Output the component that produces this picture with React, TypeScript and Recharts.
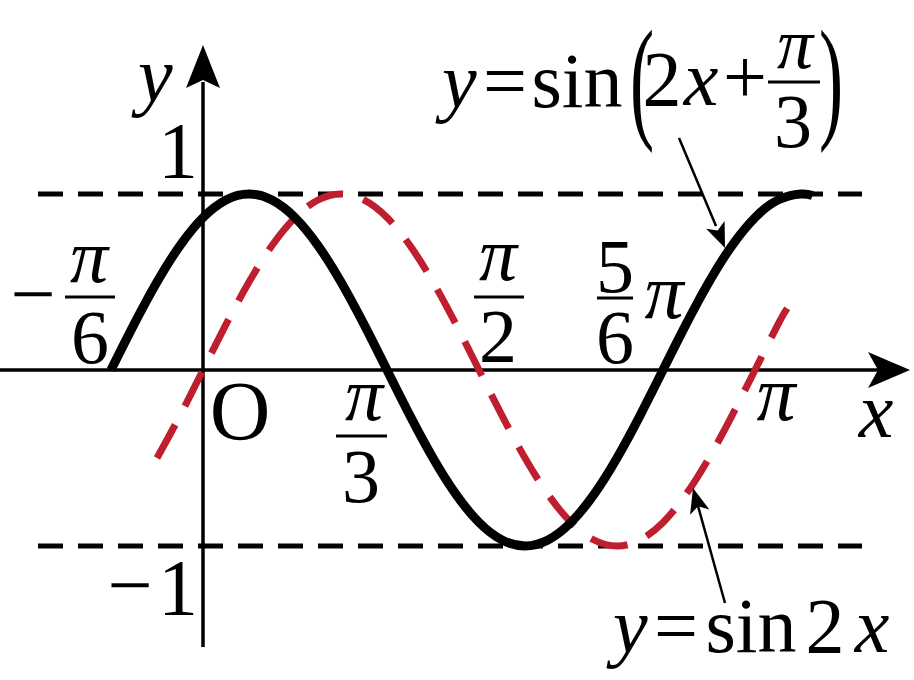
import { LineChart, Line, XAxis, YAxis, ReferenceLine, ReferenceDot } from 'recharts';

// x is counted in steps of π/24, y is the function value
const BLACK_K = [-4, -3, -2, -1, 0, 1, 2, 3, 4, 5, 6, 7, 8, 9, 10, 11, 12, 13, 14, 15, 16, 17, 18, 19, 20, 21, 22, 23, 24, 25, 26, 26.5];
const BLACK_Y = [0, 0.259, 0.5, 0.707, 0.866, 0.966, 1, 0.966, 0.866, 0.707, 0.5, 0.259, 0, -0.259, -0.5, -0.707, -0.866, -0.966, -1, -0.966, -0.866, -0.707, -0.5, -0.259, 0, 0.259, 0.5, 0.707, 0.866, 0.966, 1, 0.991];

const RED_K = [-2, -1, 0, 1, 2, 3, 4, 5, 6, 7, 8, 9, 10, 11, 12, 13, 14, 15, 16, 17, 18, 19, 20, 21, 22, 23, 24, 25, 25.4];
const RED_Y = [-0.5, -0.259, 0, 0.259, 0.5, 0.707, 0.866, 0.966, 1, 0.966, 0.866, 0.707, 0.5, 0.259, 0, -0.259, -0.5, -0.707, -0.866, -0.966, -1, -0.966, -0.866, -0.707, -0.5, -0.259, 0, 0.259, 0.35];

const W = 914;
const H = 680;
const X0 = 203; // pixel of x = 0
const KPX = 23; // pixels per π/24
const Y0 = 370; // pixel of y = 0
const UPX = 176; // pixels per unit of y

const kOf = (p: number) => (p - X0) / KPX;
const vOf = (p: number) => (Y0 - p) / UPX;

const X_DOMAIN = [kOf(0), kOf(W)];
const Y_DOMAIN = [vOf(H), vOf(0)];

const RED = '#BE1E2D';
const SERIF = 'Liberation Serif, DejaVu Serif, serif';

const blackData = BLACK_K.map((k, i) => ({ k, y: BLACK_Y[i] }));
const redData = RED_K.map((k, i) => ({ k, y: RED_Y[i] }));

// stealth style arrow head, tip at (tx, ty), pointing away from (fx, fy)
function stealth(tx: number, ty: number, fx: number, fy: number, len: number, half: number, notch: number) {
  const dx = tx - fx;
  const dy = ty - fy;
  const d = Math.hypot(dx, dy);
  const ux = dx / d;
  const uy = dy / d;
  const bx = tx - ux * len;
  const by = ty - uy * len;
  const nx = tx - ux * notch;
  const ny = ty - uy * notch;
  return `M${tx},${ty} L${bx - uy * half},${by + ux * half} L${nx},${ny} L${bx + uy * half},${by - ux * half} Z`;
}

const UpArrow = (props: any) => (
  <path d={stealth(props.cx, props.cy, props.cx, props.cy + 10, 43, 17, 35)} fill="#000" />
);
const RightArrow = (props: any) => (
  <path d={stealth(props.cx, props.cy, props.cx - 10, props.cy, 42, 18, 32)} fill="#000" />
);

function T({ x, y, size, italic, anchor, transform, children }: any) {
  return (
    <text
      x={x}
      y={y}
      transform={transform}
      textAnchor={anchor || 'middle'}
      fontFamily={SERIF}
      fontSize={size}
      fontStyle={italic ? 'italic' : 'normal'}
      fill="#000"
    >
      {children}
    </text>
  );
}

function Overlay() {
  const big = 80;
  const lab = 78;
  const frac = 76;
  return (
    <svg width={W} height={H} style={{ position: 'absolute', left: 0, top: 0, pointerEvents: 'none' }}>
      {/* axis names */}
      <T x={138} y={101} size={lab} italic anchor="start">y</T>
      <T x={876} y={437} size={lab} italic>x</T>

      {/* y ticks */}
      <T x={178} y={178} size={big}>1</T>
      <T x={130} y={612} size={big}>−</T>
      <T x={178} y={615} size={big}>1</T>
      <T x={240} y={440} size={84}>O</T>

      {/* -π/6 */}
      <T x={33} y={321} size={big}>−</T>
      <line x1={65} x2={115} y1={297} y2={297} stroke="#000" strokeWidth={3} />
      <T x={89} y={282} size={frac} italic>π</T>
      <T x={90} y={363} size={frac}>6</T>

      {/* π/3 */}
      <T x={364} y={420} size={frac} italic>π</T>
      <line x1={336} x2={387} y1={436} y2={436} stroke="#000" strokeWidth={3} />
      <T x={361} y={502} size={frac}>3</T>

      {/* π/2 */}
      <T x={498} y={280} size={frac} italic>π</T>
      <line x1={474} x2={524} y1={297} y2={297} stroke="#000" strokeWidth={3} />
      <T x={498} y={362} size={frac}>2</T>

      {/* 5π/6 */}
      <T x={615} y={292} size={frac}>5</T>
      <line x1={597} x2={633} y1={298} y2={298} stroke="#000" strokeWidth={3} />
      <T x={615} y={363} size={frac}>6</T>
      <T x={664} y={318} size={lab} italic>π</T>

      {/* π */}
      <T x={776} y={420} size={lab} italic>π</T>

      {/* y = sin(2x + π/3) */}
      <T x={442} y={107} size={lab} italic anchor="start">y</T>
      <T x={505} y={107} size={lab}>=</T>
      <T x={577} y={107} size={lab}>sin</T>
      <T transform="translate(642,124) scale(0.58,1.08)" size={125}>(</T>
      <T x={662} y={105} size={lab}>2</T>
      <T x={701} y={105} size={lab} italic>x</T>
      <T x={745} y={103} size={lab}>+</T>
      <line x1={768} x2={820} y1={82} y2={82} stroke="#000" strokeWidth={3} />
      <T x={795} y={68} size={72} italic>π</T>
      <T x={793} y={147} size={frac}>3</T>
      <T transform="translate(831,124) scale(0.58,1.08)" size={125}>)</T>
      <line x1={679} y1={138} x2={716} y2={226} stroke="#000" strokeWidth={2.5} />
      <path d={stealth(725, 248, 679, 138, 25, 10, 19)} fill="#000" />

      {/* y = sin 2x */}
      <T x={613} y={652} size={lab} italic anchor="start">y</T>
      <T x={676} y={652} size={lab}>=</T>
      <T x={751} y={652} size={lab}>sin</T>
      <T x={825} y={652} size={lab}>2</T>
      <T x={872} y={652} size={lab} italic>x</T>
      <line x1={725} y1={603} x2={698} y2={506} stroke="#000" strokeWidth={2.5} />
      <path d={stealth(693, 488, 725, 603, 25, 10, 19)} fill="#000" />
    </svg>
  );
}

export default function App() {
  return (
    <div style={{ position: 'absolute', left: 0, top: 0, width: W, height: H, background: '#fff' }}>
      <LineChart width={W} height={H} margin={{ top: 0, right: 0, bottom: 0, left: 0 }}>
        <XAxis type="number" dataKey="k" domain={X_DOMAIN} allowDataOverflow hide />
        <YAxis type="number" domain={Y_DOMAIN} allowDataOverflow hide />

        <ReferenceLine
          segment={[{ x: kOf(38), y: 1 }, { x: kOf(862), y: 1 }]}
          stroke="#000"
          strokeWidth={5}
          strokeDasharray="25 15"
        />
        <ReferenceLine
          segment={[{ x: kOf(38), y: -1 }, { x: kOf(862), y: -1 }]}
          stroke="#000"
          strokeWidth={5}
          strokeDasharray="25 15"
        />
        <ReferenceLine
          segment={[{ x: kOf(0), y: 0 }, { x: kOf(880), y: 0 }]}
          stroke="#000"
          strokeWidth={3.5}
        />
        <ReferenceLine
          segment={[{ x: 0, y: vOf(647) }, { x: 0, y: vOf(82) }]}
          stroke="#000"
          strokeWidth={3.5}
        />
        <ReferenceDot x={0} y={vOf(45)} r={1} shape={UpArrow} />
        <ReferenceDot x={kOf(910)} y={0} r={1} shape={RightArrow} />

        <Line
          data={redData}
          dataKey="y"
          type="natural"
          stroke={RED}
          strokeWidth={7}
          strokeDasharray="38 21"
          dot={false}
          activeDot={false}
          isAnimationActive={false}
        />
        <Line
          data={blackData}
          dataKey="y"
          type="natural"
          stroke="#000"
          strokeWidth={9}
          dot={false}
          activeDot={false}
          isAnimationActive={false}
        />
      </LineChart>
      <Overlay />
    </div>
  );
}
